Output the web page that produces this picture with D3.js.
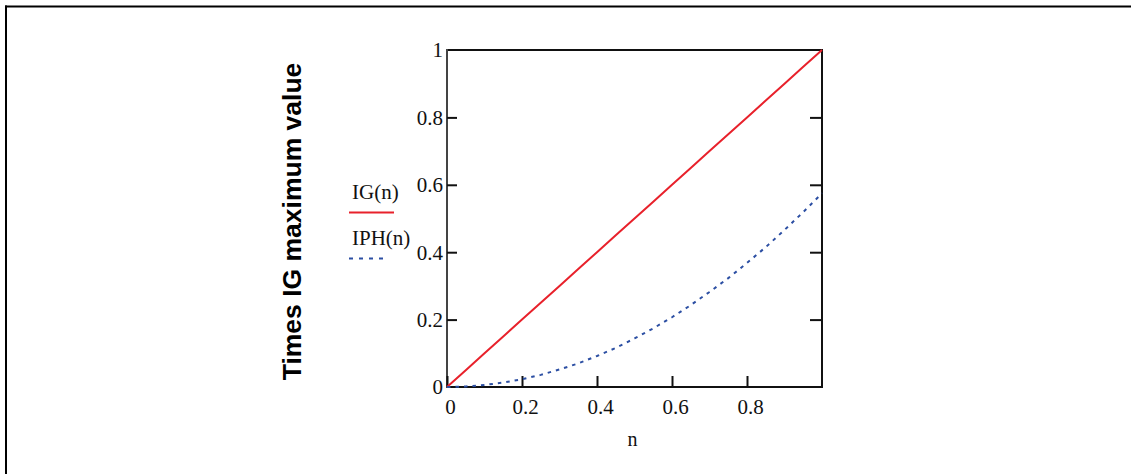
<!DOCTYPE html>
<html>
<head>
<meta charset="utf-8">
<script src="https://cdn.jsdelivr.net/npm/d3@7"></script>
<style>
  html, body { margin: 0; padding: 0; background: #fff; }
  svg { display: block; }
</style>
</head>
<body>
<svg id="chart" width="1131" height="474"></svg>
<script>
// Sample points along n
const nValues = [0, 0.05, 0.1, 0.15, 0.2, 0.25, 0.3, 0.35, 0.4, 0.45, 0.5,
                 0.55, 0.6, 0.65, 0.7, 0.75, 0.8, 0.85, 0.9, 0.95, 1];
// IG(n), relative to its maximum
const igValues = [0, 0.05, 0.1, 0.15, 0.2, 0.25, 0.3, 0.35, 0.4, 0.45, 0.5,
                  0.55, 0.6, 0.65, 0.7, 0.75, 0.8, 0.85, 0.9, 0.95, 1];
// IPH(n), relative to the IG maximum
const iphValues = [0, 0.0015, 0.006, 0.013, 0.023, 0.036, 0.052, 0.070, 0.092, 0.116, 0.144,
                   0.174, 0.207, 0.243, 0.282, 0.323, 0.368, 0.415, 0.466, 0.519, 0.575];
const xTicks = [0, 0.2, 0.4, 0.6, 0.8];
const xTickLabels = ["0", "0.2", "0.4", "0.6", "0.8"];
const yTicks = [0, 0.2, 0.4, 0.6, 0.8, 1];
const yTickLabels = ["0", "0.2", "0.4", "0.6", "0.8", "1"];
const seriesNames = ["IG(n)", "IPH(n)"];

const svg = d3.select("#chart");

// Frame lines along the top and left edge
svg.append("line").attr("x1", 5).attr("x2", 1131).attr("y1", 6.5).attr("y2", 6.5)
  .attr("stroke", "#000").attr("stroke-width", 2);
svg.append("line").attr("x1", 6).attr("x2", 6).attr("y1", 5.5).attr("y2", 474)
  .attr("stroke", "#000").attr("stroke-width", 2);

const plot = { left: 447, right: 822, top: 50, bottom: 387 };
const x = d3.scaleLinear().domain([0, 1]).range([plot.left, plot.right]);
const y = d3.scaleLinear().domain([0, 1]).range([plot.bottom, plot.top]);

const serif = "'Liberation Serif', 'Times New Roman', serif";

// Plot box
const box = svg.append("g");
box.append("line").attr("x1", plot.left).attr("x2", plot.right).attr("y1", plot.top).attr("y2", plot.top)
  .attr("stroke", "#111").attr("stroke-width", 2);
box.append("line").attr("x1", plot.right).attr("x2", plot.right).attr("y1", plot.top - 1).attr("y2", plot.bottom + 1)
  .attr("stroke", "#111").attr("stroke-width", 2);
box.append("line").attr("x1", plot.left).attr("x2", plot.right + 1).attr("y1", plot.bottom).attr("y2", plot.bottom)
  .attr("stroke", "#111").attr("stroke-width", 2);
box.append("line").attr("x1", plot.left).attr("x2", plot.left).attr("y1", plot.top - 1).attr("y2", plot.bottom + 1)
  .attr("stroke", "#444").attr("stroke-width", 2);

// Bottom axis: inward ticks
const xAxis = d3.axisBottom(x).tickValues(xTicks).tickSize(-11).tickPadding(0)
  .tickFormat((d, i) => xTickLabels[i]);
const gx = svg.append("g").attr("transform", `translate(0,${plot.bottom})`).call(xAxis);
gx.select(".domain").remove();
gx.selectAll(".tick line").attr("stroke", "#111").attr("stroke-width", 2);
gx.selectAll(".tick text")
  .attr("font-family", serif).attr("font-size", 21).attr("fill", "#111")
  .attr("dy", null).attr("y", 27).attr("dx", 3);

// Left axis: inward ticks
const yAxis = d3.axisLeft(y).tickValues(yTicks).tickSize(-10).tickPadding(0)
  .tickFormat((d, i) => yTickLabels[i]);
const gy = svg.append("g").attr("transform", `translate(${plot.left},0)`).call(yAxis);
gy.select(".domain").remove();
gy.selectAll(".tick line").attr("stroke", "#111").attr("stroke-width", 2)
  .filter(d => d === 0 || d === 1).remove();
gy.selectAll(".tick text")
  .attr("font-family", serif).attr("font-size", 21).attr("fill", "#111")
  .attr("x", -4).attr("dy", "0.33em");

// Right axis: inward ticks, no labels
const yAxisR = d3.axisRight(y).tickValues(yTicks.filter(d => d > 0 && d < 1)).tickSize(-12).tickFormat("");
const gyr = svg.append("g").attr("transform", `translate(${plot.right},0)`).call(yAxisR);
gyr.select(".domain").remove();
gyr.selectAll(".tick line").attr("stroke", "#111").attr("stroke-width", 2);

// Series
const line = d3.line().x(d => x(d[0])).y(d => y(d[1]));
svg.append("path")
  .datum(nValues.map((n, i) => [n, igValues[i]]))
  .attr("d", line).attr("fill", "none")
  .attr("stroke", "#e8212b").attr("stroke-width", 2);
svg.append("path")
  .datum(nValues.map((n, i) => [n, iphValues[i]]))
  .attr("d", line).attr("fill", "none")
  .attr("stroke", "#2c4fa3").attr("stroke-width", 2)
  .attr("stroke-dasharray", "3.5,5");

// Legend
const legend = svg.append("g");
legend.append("text").attr("x", 352).attr("y", 199)
  .attr("font-family", serif).attr("font-size", 21).attr("fill", "#111").text(seriesNames[0]);
legend.append("line").attr("x1", 349).attr("x2", 394).attr("y1", 212.5).attr("y2", 212.5)
  .attr("stroke", "#e8212b").attr("stroke-width", 2);
legend.append("text").attr("x", 352).attr("y", 245)
  .attr("font-family", serif).attr("font-size", 21).attr("fill", "#111").text(seriesNames[1]);
legend.append("line").attr("x1", 349).attr("x2", 388).attr("y1", 258.5).attr("y2", 258.5)
  .attr("stroke", "#2c4fa3").attr("stroke-width", 2).attr("stroke-dasharray", "4,6");

// Axis titles
svg.append("text")
  .attr("transform", `translate(301,${(plot.top + plot.bottom) / 2 + 3}) rotate(-90)`)
  .attr("text-anchor", "middle")
  .attr("font-family", "'Liberation Sans', Arial, sans-serif")
  .attr("font-weight", "bold").attr("font-size", 26.5).attr("fill", "#000")
  .text("Times IG maximum value");
svg.append("text")
  .attr("x", (plot.left + plot.right) / 2 - 2).attr("y", 446)
  .attr("text-anchor", "middle")
  .attr("font-family", serif).attr("font-size", 20).attr("fill", "#111")
  .text("n");
</script>
</body>
</html>
